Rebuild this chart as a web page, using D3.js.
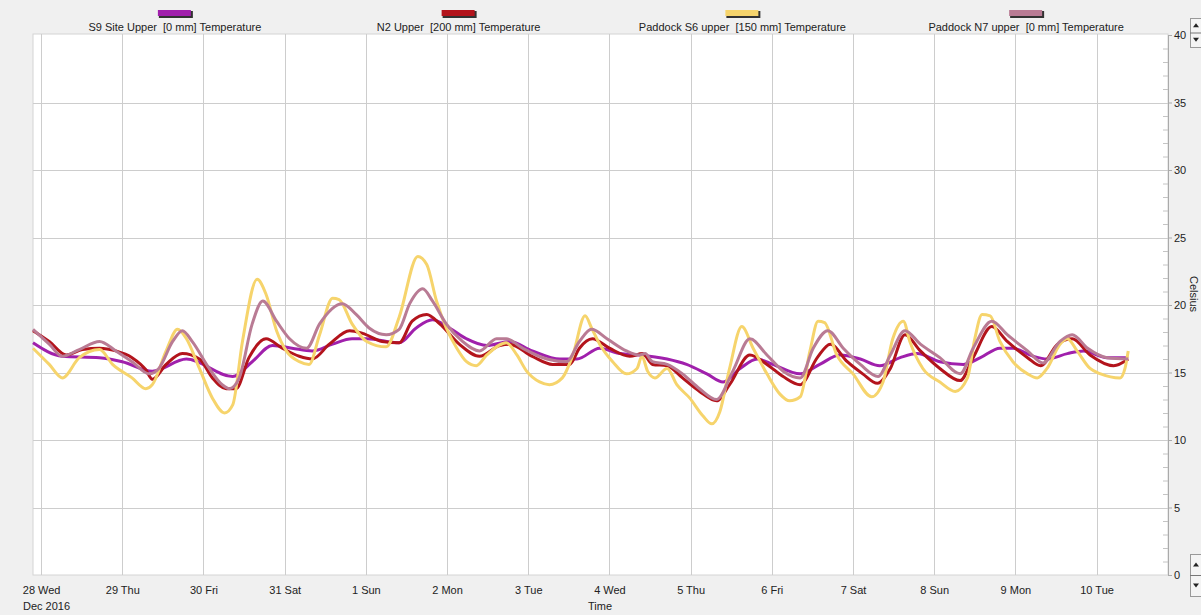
<!DOCTYPE html>
<html>
<head>
<meta charset="utf-8">
<script src="https://cdn.jsdelivr.net/npm/d3@7"></script>
<style>
  body { margin: 0; background: #f0f0f0; }
  text { font-family: "Liberation Sans", Arial, sans-serif; font-size: 11px; fill: #222; white-space: pre; }
</style>
</head>
<body>
<div id="chart"></div>
<script>
// day labels along the time axis (day 0 = 28 Dec 2016)
const dayLabels = ["28 Wed", "29 Thu", "30 Fri", "31 Sat", "1 Sun", "2 Mon", "3 Tue",
  "4 Wed", "5 Thu", "6 Fri", "7 Sat", "8 Sun", "9 Mon", "10 Tue"];

const seriesNames = [
  "S9 Site Upper  [0 mm] Temperature",
  "N2 Upper  [200 mm] Temperature",
  "Paddock S6 upper  [150 mm] Temperature",
  "Paddock N7 upper  [0 mm] Temperature"
];
const seriesColors = ["#a020ac", "#b3141c", "#f6d46c", "#b97b94"];

// [day, celsius]
const s9Temp = [
  [-0.10, 17.2], [0.26, 16.2], [0.72, 16.1], [1.00, 15.8], [1.37, 15.1], [1.79, 16.0],
  [2.36, 14.7], [2.60, 15.8], [2.85, 17.0], [3.09, 16.8], [3.34, 16.6], [3.59, 17.1],
  [3.83, 17.5], [4.01, 17.5], [4.41, 17.2], [4.62, 18.3], [4.82, 18.9], [5.03, 18.3],
  [5.24, 17.5], [5.49, 17.0], [5.77, 17.3], [6.05, 16.6], [6.39, 16.0], [6.60, 16.0],
  [6.88, 16.8], [7.13, 16.4], [7.37, 16.3], [7.71, 16.0], [7.95, 15.6], [8.20, 14.9],
  [8.40, 14.3], [8.61, 15.3], [8.82, 16.0], [9.01, 15.6], [9.35, 14.9], [9.59, 15.6],
  [9.84, 16.3], [10.09, 16.0], [10.33, 15.5], [10.58, 16.1], [10.79, 16.4], [11.07, 15.8],
  [11.36, 15.6], [11.57, 16.1], [11.81, 16.8], [11.97, 16.8], [12.22, 16.2], [12.39, 16.0],
  [12.64, 16.4], [12.84, 16.6], [13.13, 16.1], [13.39, 16.1]
];

const n2Temp = [
  [-0.10, 18.1], [0.10, 17.3], [0.31, 16.3], [0.51, 16.7], [0.72, 16.8], [0.92, 16.6],
  [1.12, 16.1], [1.29, 15.2], [1.37, 14.5], [1.54, 15.6], [1.74, 16.4], [1.95, 16.0],
  [2.11, 14.6], [2.28, 13.8], [2.40, 13.8], [2.56, 16.1], [2.77, 17.5], [2.97, 16.8],
  [3.18, 16.2], [3.34, 16.0], [3.55, 17.1], [3.80, 18.1], [3.96, 17.9], [4.20, 17.3],
  [4.41, 17.2], [4.57, 18.8], [4.75, 19.3], [4.91, 18.6], [5.15, 17.1], [5.40, 16.2],
  [5.65, 17.0], [5.77, 17.1], [6.05, 16.2], [6.30, 15.6], [6.51, 15.6], [6.63, 16.8],
  [6.79, 17.5], [7.00, 16.8], [7.25, 16.2], [7.41, 16.4], [7.53, 15.6], [7.71, 15.5],
  [7.90, 14.6], [8.11, 13.6], [8.32, 12.9], [8.48, 14.1], [8.73, 16.3], [8.94, 15.6],
  [9.14, 14.7], [9.35, 14.1], [9.56, 16.1], [9.72, 17.1], [9.93, 15.8], [10.12, 14.9],
  [10.30, 14.2], [10.46, 15.3], [10.64, 17.8], [10.83, 16.6], [11.07, 15.3], [11.32, 14.4],
  [11.48, 16.1], [11.71, 18.4], [11.90, 17.3], [12.15, 16.1], [12.31, 15.5], [12.52, 17.1],
  [12.70, 17.5], [12.92, 16.3], [13.21, 15.5], [13.39, 16.0]
];

const s6Temp = [
  [-0.10, 16.8], [0.10, 15.6], [0.26, 14.6], [0.47, 16.1], [0.72, 16.7], [0.88, 15.6],
  [1.12, 14.6], [1.29, 13.8], [1.37, 14.1], [1.54, 16.6], [1.68, 18.2], [1.79, 17.5],
  [1.95, 15.3], [2.11, 13.1], [2.26, 12.0], [2.36, 12.6], [2.48, 17.3], [2.66, 21.9],
  [2.77, 20.8], [2.90, 18.1], [3.02, 16.6], [3.18, 15.8], [3.30, 15.6], [3.43, 17.8],
  [3.59, 20.5], [3.67, 20.4], [3.83, 18.6], [4.01, 17.3], [4.25, 16.9], [4.41, 19.1],
  [4.64, 23.6], [4.75, 23.0], [4.87, 20.3], [4.99, 18.3], [5.12, 16.8], [5.24, 15.8],
  [5.36, 15.5], [5.49, 16.3], [5.73, 17.2], [5.86, 16.3], [5.98, 15.1], [6.14, 14.3],
  [6.26, 14.1], [6.42, 14.6], [6.55, 16.3], [6.70, 19.2], [6.78, 18.3], [6.88, 17.1],
  [7.04, 15.8], [7.21, 14.9], [7.34, 15.3], [7.40, 16.2], [7.47, 15.1], [7.56, 14.6],
  [7.71, 15.3], [7.83, 14.1], [7.99, 13.1], [8.15, 11.8], [8.26, 11.2], [8.36, 12.1],
  [8.48, 15.3], [8.63, 18.4], [8.77, 16.8], [8.94, 14.9], [9.10, 13.4], [9.22, 12.9],
  [9.35, 13.2], [9.47, 16.6], [9.57, 18.8], [9.65, 18.7], [9.80, 16.3], [10.00, 14.9],
  [10.23, 13.2], [10.37, 14.3], [10.49, 17.5], [10.62, 18.8], [10.70, 17.3], [10.86, 15.3],
  [11.07, 14.3], [11.26, 13.6], [11.41, 14.6], [11.50, 17.5], [11.59, 19.3], [11.69, 19.2],
  [11.81, 17.3], [11.97, 15.8], [12.15, 14.9], [12.27, 14.6], [12.39, 15.3], [12.55, 17.1],
  [12.64, 17.5], [12.76, 16.6], [12.92, 15.3], [13.05, 14.9], [13.29, 14.6], [13.35, 15.3],
  [13.39, 16.6]
];

const n7Temp = [
  [-0.10, 18.2], [0.10, 17.1], [0.26, 16.2], [0.47, 16.7], [0.72, 17.3], [0.92, 16.6],
  [1.12, 15.8], [1.33, 14.9], [1.45, 15.3], [1.62, 17.3], [1.74, 18.1], [1.86, 17.3],
  [2.07, 15.3], [2.23, 14.1], [2.32, 13.8], [2.44, 14.6], [2.60, 18.6], [2.73, 20.3],
  [2.90, 18.8], [3.06, 17.5], [3.27, 16.8], [3.43, 18.6], [3.71, 20.1], [3.88, 19.3],
  [4.04, 18.3], [4.25, 17.8], [4.41, 18.2], [4.54, 20.1], [4.70, 21.2], [4.82, 20.3],
  [4.99, 18.6], [5.19, 17.3], [5.40, 16.6], [5.61, 17.5], [5.73, 17.5], [5.93, 16.8],
  [6.23, 16.0], [6.47, 15.8], [6.63, 17.3], [6.78, 18.2], [6.97, 17.5], [7.21, 16.6],
  [7.37, 16.3], [7.44, 16.4], [7.53, 15.8], [7.71, 15.6], [7.90, 14.9], [8.11, 13.8],
  [8.32, 13.0], [8.52, 15.1], [8.73, 17.5], [8.94, 16.3], [9.14, 15.1], [9.35, 14.6],
  [9.51, 16.8], [9.69, 18.1], [9.88, 16.8], [10.09, 15.6], [10.31, 14.7], [10.46, 16.3],
  [10.64, 18.1], [10.83, 17.1], [11.07, 16.1], [11.32, 14.9], [11.48, 16.8], [11.71, 18.8],
  [11.90, 17.8], [12.15, 16.6], [12.34, 15.7], [12.55, 17.3], [12.70, 17.8], [12.89, 16.8],
  [13.13, 16.1], [13.39, 16.0]
];

const allSeries = [s9Temp, n2Temp, s6Temp, n7Temp];

const width = 1201, height = 615;
const plot = { left: 33, right: 1168, top: 34, bottom: 575 };

const svg = d3.select("#chart")
  .append("svg")
  .attr("width", width)
  .attr("height", height)
  .style("display", "block");

const x = d3.scaleLinear().domain([-0.1, 13.88]).range([plot.left, plot.right]);
const y = d3.scaleLinear().domain([0, 40]).range([plot.bottom, plot.top + 1]);

// plot background
svg.append("rect")
  .attr("x", plot.left).attr("y", plot.top)
  .attr("width", plot.right - plot.left).attr("height", plot.bottom - plot.top)
  .attr("fill", "#fff")
  .attr("stroke", "#d4d4d4");

// grid
const grid = svg.append("g").attr("stroke", "#cdcdcd").attr("stroke-width", 1);
grid.selectAll(".vg")
  .data(d3.range(dayLabels.length))
  .join("line")
  .attr("x1", d => Math.round(x(d)) + 0.5).attr("x2", d => Math.round(x(d)) + 0.5)
  .attr("y1", plot.top).attr("y2", plot.bottom);
grid.selectAll(".hg")
  .data(d3.range(5, 40, 5))
  .join("line")
  .attr("x1", plot.left).attr("x2", plot.right)
  .attr("y1", d => Math.round(y(d)) + 0.5).attr("y2", d => Math.round(y(d)) + 0.5);

// right axis
const yAxis = svg.append("g")
  .attr("transform", `translate(${plot.right},0)`)
  .call(d3.axisRight(y).tickValues(d3.range(0, 41, 5)).tickSizeInner(4).tickSizeOuter(0).tickPadding(2));
yAxis.select(".domain").attr("stroke", "#aaa");
yAxis.selectAll(".tick line").attr("stroke", "#aaa");
yAxis.selectAll("text").attr("fill", "#333").style("font-size", "11px")
  .style("font-family", "'Liberation Sans', Arial, sans-serif");

const minor = svg.append("g")
  .attr("transform", `translate(${plot.right},0)`)
  .call(d3.axisLeft(y).tickValues(d3.range(0, 41).filter(d => d % 5)).tickSize(5).tickFormat(""));
minor.select(".domain").remove();
minor.selectAll(".tick line").attr("stroke", "#c4c4c4");

// x axis labels
const xAxis = svg.append("g")
  .attr("transform", `translate(0,${plot.bottom})`)
  .call(d3.axisBottom(x).tickValues(d3.range(dayLabels.length)).tickFormat(i => dayLabels[i]).tickSize(0).tickPadding(11));
xAxis.select(".domain").remove();
xAxis.selectAll("text").attr("fill", "#333").style("font-size", "11px")
  .style("font-family", "'Liberation Sans', Arial, sans-serif");

svg.append("text").attr("x", 23).attr("y", 610).text("Dec 2016");
svg.append("text").attr("x", 600).attr("y", 610).attr("text-anchor", "middle").text("Time");
svg.append("text")
  .attr("transform", `translate(1190,276) rotate(90)`)
  .text("Celsius");

// lines
const line = d3.line()
  .x(d => x(d[0]))
  .y(d => y(d[1]))
  .curve(d3.curveMonotoneX);

svg.append("g")
  .selectAll("path")
  .data(allSeries)
  .join("path")
  .attr("d", line)
  .attr("fill", "none")
  .attr("stroke", (d, i) => seriesColors[i])
  .attr("stroke-width", 3)
  .attr("stroke-linejoin", "round");

// legend
const slot = (plot.right - plot.left) / seriesNames.length;
const legend = svg.append("g")
  .selectAll("g")
  .data(seriesNames)
  .join("g")
  .attr("transform", (d, i) => `translate(${plot.left + slot * (i + 0.5)},0)`);
legend.append("rect")
  .attr("x", -16).attr("y", 11).attr("width", 34).attr("height", 7)
  .attr("fill", "#333");
legend.append("rect")
  .attr("x", -17).attr("y", 10).attr("width", 33).attr("height", 6)
  .attr("fill", (d, i) => seriesColors[i]);
legend.append("text")
  .attr("y", 31)
  .attr("text-anchor", "middle")
  .attr("xml:space", "preserve")
  .text(d => d);

// scroll buttons on the value axis
function spinner(top, h) {
  const g = svg.append("g").attr("transform", `translate(1190,${top})`);
  g.append("rect").attr("x", 0.5).attr("y", 0.5).attr("width", 11).attr("height", h)
    .attr("fill", "#f4f4f4").attr("stroke", "#999");
  g.append("line").attr("x1", 0).attr("x2", 12).attr("y1", h / 2 + 0.5).attr("y2", h / 2 + 0.5)
    .attr("stroke", "#777");
  g.append("path").attr("d", `M3,${h * 0.25 + 2}L6,${h * 0.25 - 2}L9,${h * 0.25 + 2}Z`).attr("fill", "#222");
  g.append("path").attr("d", `M3,${h * 0.75 - 2}L6,${h * 0.75 + 2}L9,${h * 0.75 - 2}Z`).attr("fill", "#222");
}
spinner(18, 29);
spinner(554, 42);
</script>
</body>
</html>
